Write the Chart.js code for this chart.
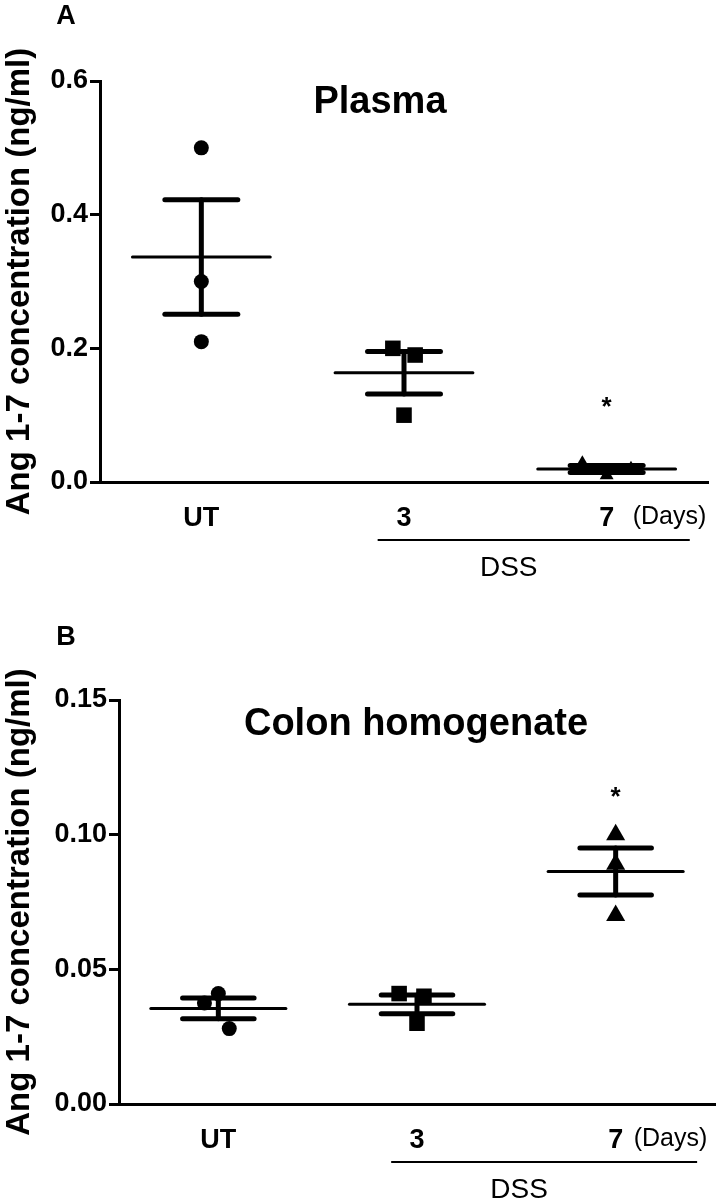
<!DOCTYPE html>
<html>
<head>
<meta charset="utf-8">
<script src="https://cdn.jsdelivr.net/npm/chart.js@4.4.0/dist/chart.umd.min.js"></script>
<style>
    body { margin: 0; background: #fff; }
    canvas { position: absolute; left: 0; }
    #plasmaChart { top: 0; }
    #colonChart { top: 600px; }
</style>
</head>
<body>
<canvas id="plasmaChart" width="726" height="600"></canvas>
<canvas id="colonChart" width="726" height="599"></canvas>
<script>
// Data
const categories = ["UT", "3", "7"];

const plasmaUT = [0.50, 0.30, 0.21];
const plasmaDay3 = [0.20, 0.19, 0.10];
const plasmaDay7 = [0.028, 0.020, 0.010];
const plasmaTicks = [0, 0.2, 0.4, 0.6];
const plasmaStar = 0.118;

const colonUT = [0.041, 0.0375, 0.028];
const colonDay3 = [0.041, 0.040, 0.030];
const colonDay7 = [0.100, 0.089, 0.070];
const colonTicks = [0, 0.05, 0.10, 0.15];
const colonStar = 0.1156;

const yLabel = "Ang 1-7 concentration (ng/ml)";
const FONT = "Arial, 'Liberation Sans', sans-serif";

// helpers
function mean(arr) {
    return arr.reduce((a, b) => a + b, 0) / arr.length;
}
function sem(arr) {
    const m = mean(arr);
    const variance = arr.reduce((a, b) => a + (b - m) * (b - m), 0) / (arr.length - 1);
    return Math.sqrt(variance) / Math.sqrt(arr.length);
}
function segment(x0, x1, y0, y1, width) {
    return {
        type: "line",
        data: [{ x: x0, y: y0 }, { x: x1, y: y1 }],
        borderColor: "#000",
        borderWidth: width,
        borderCapStyle: "round",
        pointRadius: 0,
        fill: false,
        clip: false,
    };
}

// Text, asterisk and the DSS bracket
const annotations = {
    id: "annotations",
    afterDraw(chart, args, opts) {
        const { ctx, chartArea } = chart;
        const x = chart.scales.x;
        const y = chart.scales.y;
        ctx.save();
        ctx.fillStyle = "#000";
        ctx.strokeStyle = "#000";
        ctx.textBaseline = "middle";

        ctx.textAlign = "center";
        ctx.font = "bold 27px " + FONT;
        ctx.fillText(opts.letter, 66, opts.letterY);

        ctx.font = "bold 38px " + FONT;
        ctx.fillText(opts.title, opts.titleX, chartArea.top + opts.titleDy);

        ctx.font = "bold 26px " + FONT;
        ctx.fillText("*", x.getPixelForValue(2.5), y.getPixelForValue(opts.star) + 5);

        ctx.textAlign = "left";
        ctx.font = "25px " + FONT;
        ctx.fillText("(Days)", x.getPixelForValue(2.5) + opts.daysGap, chartArea.bottom + 35);

        const lineY = chartArea.bottom + 58;
        const x0 = x.getPixelForValue(1.37);
        const x1 = x.getPixelForValue(2.91);
        ctx.lineWidth = 2;
        ctx.beginPath();
        ctx.moveTo(x0, lineY);
        ctx.lineTo(x1, lineY);
        ctx.stroke();

        ctx.textAlign = "center";
        ctx.font = "28px " + FONT;
        ctx.fillText("DSS", (x0 + x1) / 2 - 25, chartArea.bottom + 86);
        ctx.restore();
    }
};

function buildChart(canvasId, groups, panel) {
    const markers = ["circle", "rect", "triangle"];
    const datasets = [];

    groups.forEach((vals, i) => {
        const c = i + 0.5;
        const m = mean(vals);
        const s = sem(vals);
        datasets.push({
            type: "scatter",
            data: vals.map((v, k) => ({ x: c + panel.jitter[i][k], y: v })),
            pointStyle: markers[i],
            pointRadius: panel.radius[i],
            backgroundColor: "#000",
            borderColor: "#000",
            borderWidth: 0,
            clip: false,
        });
        datasets.push(segment(c - 0.34, c + 0.34, m, m, 3));
        datasets.push(segment(c - 0.18, c + 0.18, m + s, m + s, 5));
        datasets.push(segment(c - 0.18, c + 0.18, m - s, m - s, 5));
        datasets.push(segment(c, c, m - s, m + s, 5));
    });

    new Chart(document.getElementById(canvasId), {
        type: "scatter",
        data: { datasets: datasets },
        plugins: [annotations],
        options: {
            responsive: false,
            animation: false,
            layout: {
                padding: { top: panel.top, right: panel.right, bottom: 0, left: 0 }
            },
            plugins: {
                legend: { display: false },
                tooltip: { enabled: false },
                annotations: panel.notes,
            },
            scales: {
                x: {
                    type: "linear",
                    min: 0,
                    max: 3,
                    afterBuildTicks: scale => {
                        scale.ticks = categories.map((_, i) => ({ value: i + 0.5 }));
                    },
                    afterFit: scale => { scale.height = panel.xHeight; },
                    ticks: {
                        callback: (value, index) => categories[index],
                        color: "#000",
                        font: { family: FONT, size: 27, weight: "bold" },
                        padding: 20,
                        maxRotation: 0,
                        autoSkip: false,
                    },
                    grid: { display: false, drawTicks: false },
                    border: { color: "#000", width: 3 },
                },
                y: {
                    min: 0,
                    max: panel.ticks[panel.ticks.length - 1],
                    afterBuildTicks: scale => {
                        scale.ticks = panel.ticks.map(v => ({ value: v }));
                    },
                    afterFit: scale => { scale.width = panel.yWidth; },
                    ticks: {
                        callback: value => value.toFixed(panel.decimals),
                        color: "#000",
                        font: { family: FONT, size: 27, weight: "bold" },
                        padding: 2,
                    },
                    grid: {
                        drawOnChartArea: false,
                        drawTicks: true,
                        tickLength: 10,
                        lineWidth: 3,
                        color: "#000",
                    },
                    border: { color: "#000", width: 3 },
                    title: {
                        display: true,
                        text: yLabel,
                        color: "#000",
                        font: { family: FONT, size: 33, weight: "bold" },
                        padding: { top: 0, bottom: 0 },
                    },
                },
            },
        },
    });
}

document.addEventListener("DOMContentLoaded", () => {
    buildChart("plasmaChart", [plasmaUT, plasmaDay3, plasmaDay7], {
        ticks: plasmaTicks,
        decimals: 1,
        top: 81,
        right: 18,
        xHeight: 118,
        yWidth: 100,
        jitter: [[0, 0, 0], [-0.055, 0.055, 0], [-0.12, 0.12, 0]],
        radius: [7.5, 11, 8],
        notes: { letter: "A", letterY: 17, title: "Plasma", titleX: 380, titleDy: 22, star: plasmaStar, daysGap: 26 },
    });

    buildChart("colonChart", [colonUT, colonDay3, colonDay7], {
        ticks: colonTicks,
        decimals: 2,
        top: 100,
        right: 0,
        xHeight: 95,
        yWidth: 119,
        jitter: [[0, -0.07, 0.055], [-0.09, 0.035, 0], [0, 0, 0]],
        radius: [7.5, 11, 11],
        notes: { letter: "B", letterY: 38, title: "Colon homogenate", titleX: 416, titleDy: 25, star: colonStar, daysGap: 18 },
    });
});
</script>
</body>
</html>
